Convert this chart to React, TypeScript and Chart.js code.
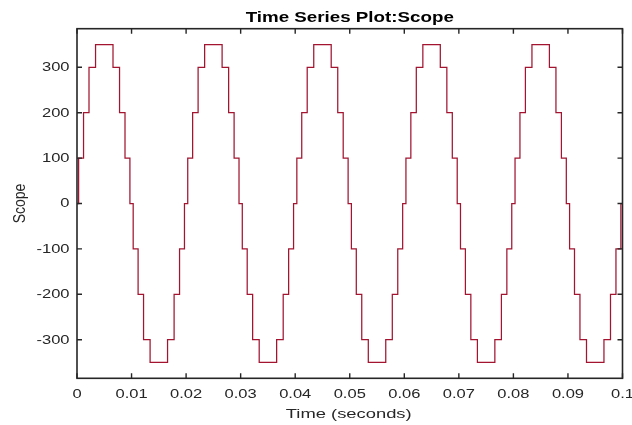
import React, { useEffect, useRef } from 'react';
import { Chart, registerables } from 'chart.js';

Chart.register(...registerables);

// Transition times (s) of the staircase signal; each value holds until the next time
const stepTimes = [
  0,
  0.0003, 0.0012, 0.0022, 0.0034, 0.0066, 0.0078, 0.0088, 0.0097,
  0.0103, 0.0112, 0.0122, 0.0134, 0.0166, 0.0178, 0.0188, 0.0197,
  0.0203, 0.0212, 0.0222, 0.0234, 0.0266, 0.0278, 0.0288, 0.0297,
  0.0303, 0.0312, 0.0322, 0.0334, 0.0366, 0.0378, 0.0388, 0.0397,
  0.0403, 0.0412, 0.0422, 0.0434, 0.0466, 0.0478, 0.0488, 0.0497,
  0.0503, 0.0512, 0.0522, 0.0534, 0.0566, 0.0578, 0.0588, 0.0597,
  0.0603, 0.0612, 0.0622, 0.0634, 0.0666, 0.0678, 0.0688, 0.0697,
  0.0703, 0.0712, 0.0722, 0.0734, 0.0766, 0.0778, 0.0788, 0.0797,
  0.0803, 0.0812, 0.0822, 0.0834, 0.0866, 0.0878, 0.0888, 0.0897,
  0.0903, 0.0912, 0.0922, 0.0934, 0.0966, 0.0978, 0.0988, 0.0997,
  0.1,
];

// Level reached at each transition time
const stepLevels = [
  0,
  100, 200, 300, 350, 300, 200, 100, 0,
  -100, -200, -300, -350, -300, -200, -100, 0,
  100, 200, 300, 350, 300, 200, 100, 0,
  -100, -200, -300, -350, -300, -200, -100, 0,
  100, 200, 300, 350, 300, 200, 100, 0,
  -100, -200, -300, -350, -300, -200, -100, 0,
  100, 200, 300, 350, 300, 200, 100, 0,
  -100, -200, -300, -350, -300, -200, -100, 0,
  100, 200, 300, 350, 300, 200, 100, 0,
  -100, -200, -300, -350, -300, -200, -100, 0,
  0,
];

const xTickValues = [0, 0.01, 0.02, 0.03, 0.04, 0.05, 0.06, 0.07, 0.08, 0.09, 0.1];
const xTickLabels = ['0', '0.01', '0.02', '0.03', '0.04', '0.05', '0.06', '0.07', '0.08', '0.09', '0.1'];
const yTickValues = [-300, -200, -100, 0, 100, 200, 300];
const yTickLabels = ['-300', '-200', '-100', '0', '100', '200', '300'];

const titleText = 'Time Series Plot:Scope';
const xLabelText = 'Time (seconds)';
const yLabelText = 'Scope';

const TEXT = '#262626';
const FONT = '"Liberation Sans", Arial, Helvetica, sans-serif';

function stretchedText(
  ctx: CanvasRenderingContext2D,
  text: string,
  x: number,
  y: number,
  sx: number,
  align: CanvasTextAlign,
  baseline: CanvasTextBaseline,
) {
  ctx.save();
  ctx.translate(x, y);
  ctx.scale(sx, 1);
  ctx.textAlign = align;
  ctx.textBaseline = baseline;
  ctx.fillText(text, 0, 0);
  ctx.restore();
}

const framePlugin = {
  id: 'frame',
  afterDraw(chart: any) {
    const { ctx, chartArea: a, scales } = chart;
    const xs = scales.x;
    const ys = scales.y;
    ctx.save();
    ctx.strokeStyle = TEXT;
    ctx.lineWidth = 1.6;
    ctx.strokeRect(a.left, a.top, a.right - a.left, a.bottom - a.top);
    ctx.lineWidth = 1.4;
    const tl = 5;
    ctx.beginPath();
    xs.ticks.forEach((t: any) => {
      const px = xs.getPixelForValue(t.value);
      ctx.moveTo(px, a.bottom);
      ctx.lineTo(px, a.bottom - tl);
      ctx.moveTo(px, a.top);
      ctx.lineTo(px, a.top + tl);
    });
    ys.ticks.forEach((t: any) => {
      const py = ys.getPixelForValue(t.value);
      ctx.moveTo(a.left, py);
      ctx.lineTo(a.left + tl, py);
      ctx.moveTo(a.right, py);
      ctx.lineTo(a.right - tl, py);
    });
    ctx.stroke();

    // tick labels
    ctx.fillStyle = TEXT;
    ctx.font = `12.5px ${FONT}`;
    xs.ticks.forEach((t: any, i: number) => {
      const px = xs.getPixelForValue(t.value);
      stretchedText(ctx, xTickLabels[i], px, a.bottom + 16, 1.32, 'center', 'middle');
    });
    ys.ticks.forEach((t: any, i: number) => {
      const py = ys.getPixelForValue(t.value);
      stretchedText(ctx, yTickLabels[i], a.left - 7.5, py + 0.5, 1.32, 'right', 'middle');
    });

    const cx = (a.left + a.right) / 2;
    ctx.fillStyle = '#000000';
    ctx.font = `bold 15.5px ${FONT}`;
    stretchedText(ctx, titleText, cx, 21.7, 1.21, 'center', 'alphabetic');

    ctx.fillStyle = TEXT;
    ctx.font = `13.5px ${FONT}`;
    stretchedText(ctx, xLabelText, cx - 1, 417.5, 1.36, 'center', 'alphabetic');

    ctx.save();
    ctx.font = `14px ${FONT}`;
    ctx.translate(24.5, (a.top + a.bottom) / 2);
    ctx.scale(1.15, 1);
    ctx.rotate(-Math.PI / 2);
    ctx.textAlign = 'center';
    ctx.textBaseline = 'alphabetic';
    ctx.fillText(yLabelText, 0, 0);
    ctx.restore();

    ctx.restore();
  },
};

export default function App() {
  const canvasRef = useRef<HTMLCanvasElement | null>(null);

  useEffect(() => {
    const canvas = canvasRef.current;
    if (!canvas) return;
    const points = stepTimes.map((t, i) => ({ x: t, y: stepLevels[i] }));
    const chart = new Chart(canvas, {
      type: 'line',
      data: {
        datasets: [
          {
            label: 'Scope',
            data: points,
            stepped: 'before',
            borderColor: '#a2142f',
            borderWidth: 1.25,
            pointRadius: 0,
            fill: false,
          },
        ],
      },
      options: {
        animation: false,
        responsive: false,
        maintainAspectRatio: false,
        devicePixelRatio: 1,
        layout: { padding: { top: 28.7, right: 9.5, left: 0, bottom: 0 } },
        plugins: {
          legend: { display: false },
          title: { display: false },
          tooltip: { enabled: false },
        },
        scales: {
          x: {
            type: 'linear',
            min: 0,
            max: 0.1,
            afterBuildTicks: (s: any) => {
              s.ticks = xTickValues.map((v) => ({ value: v }));
            },
            afterFit: (s: any) => {
              s.height = 425 - 378.3;
            },
            grid: { display: false, drawTicks: false },
            border: { display: false },
            ticks: { display: false },
          },
          y: {
            type: 'linear',
            min: -385,
            max: 385,
            afterBuildTicks: (s: any) => {
              s.ticks = yTickValues.map((v) => ({ value: v }));
            },
            afterFit: (s: any) => {
              s.width = 77;
            },
            grid: { display: false, drawTicks: false },
            border: { display: false },
            ticks: { display: false },
          },
        },
      },
      plugins: [framePlugin],
    } as any);
    return () => chart.destroy();
  }, []);

  return (
    <div style={{ position: 'absolute', left: 0, top: 0, width: 632, height: 425, background: '#ffffff' }}>
      <canvas ref={canvasRef} width={632} height={425} style={{ display: 'block' }} />
    </div>
  );
}
